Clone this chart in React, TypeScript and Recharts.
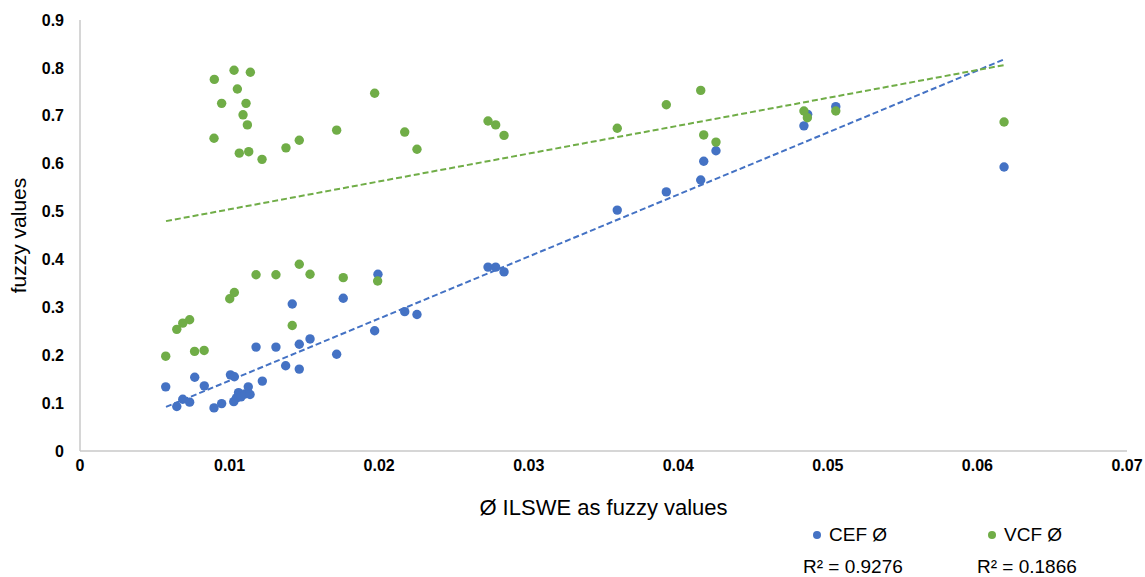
import { ScatterChart, Scatter, XAxis, YAxis, Label } from "recharts";

const xTicks = [0, 0.01, 0.02, 0.03, 0.04, 0.05, 0.06, 0.07];
const yTicks = [0, 0.1, 0.2, 0.3, 0.4, 0.5, 0.6, 0.7, 0.8, 0.9];

// CEF Ø (blue)
const cefX = [
  0.00573, 0.00647, 0.00687, 0.00733, 0.00767, 0.00831, 0.00896, 0.00947,
  0.01006, 0.01032, 0.01028, 0.01046, 0.0106, 0.01076, 0.01103, 0.01125,
  0.01137, 0.01177, 0.01219, 0.0131, 0.01375, 0.01419, 0.01466, 0.01466,
  0.01538, 0.01716, 0.0176, 0.0197, 0.01992, 0.02171, 0.02253, 0.02728,
  0.02779, 0.02835, 0.03592, 0.0392, 0.0415, 0.0417, 0.04252, 0.0484,
  0.04865, 0.05053, 0.06178,
];
const cefY = [
  0.134, 0.093, 0.108, 0.102, 0.154, 0.136, 0.09, 0.099,
  0.159, 0.155, 0.103, 0.111, 0.122, 0.113, 0.119, 0.134,
  0.118, 0.217, 0.146, 0.217, 0.178, 0.307, 0.171, 0.223,
  0.234, 0.202, 0.319, 0.251, 0.369, 0.291, 0.285, 0.384,
  0.384, 0.374, 0.503, 0.541, 0.566, 0.605, 0.627, 0.679,
  0.703, 0.719, 0.593,
];

// VCF Ø (green)
const vcfX = [
  0.00898, 0.0103, 0.01139, 0.01052, 0.00947, 0.0111, 0.0109, 0.01119,
  0.00896, 0.01065, 0.01128, 0.01217, 0.01377, 0.01466, 0.01716, 0.0197,
  0.02171, 0.02253, 0.02728, 0.02779, 0.02835, 0.03592, 0.0392, 0.0415,
  0.0417, 0.04252, 0.0484, 0.04863, 0.05053, 0.06178, 0.00573, 0.00647,
  0.00687, 0.00733, 0.00766, 0.0083, 0.01001, 0.01032, 0.01177, 0.0131,
  0.01466, 0.01538, 0.0176, 0.0199, 0.01419,
];
const vcfY = [
  0.776, 0.795, 0.791, 0.756, 0.726, 0.726, 0.702, 0.681,
  0.653, 0.622, 0.625, 0.609, 0.633, 0.649, 0.67, 0.747,
  0.666, 0.63, 0.689, 0.681, 0.659, 0.674, 0.723, 0.753,
  0.66, 0.645, 0.71, 0.696, 0.71, 0.687, 0.198, 0.254,
  0.267, 0.274, 0.208, 0.21, 0.318, 0.331, 0.368, 0.368,
  0.39, 0.369, 0.362, 0.355, 0.262,
];

// linear trendlines, end points
const trendX = [0.00575, 0.0618];
const cefTrendY = [0.092, 0.818];
const vcfTrendY = [0.48, 0.806];

const cefR2 = "0.9276";
const vcfR2 = "0.1866";

const BLUE = "#4472C4";
const GREEN = "#70AD47";
const FONT = "'Liberation Sans', Arial, sans-serif";

const toPoints = (xs: number[], ys: number[]) =>
  xs.map((x, i) => ({ x, y: ys[i] }));

const dot = (color: string) => (props: any) =>
  <circle cx={props.cx} cy={props.cy} r={4.7} fill={color} />;

const noDot = () => <g />;

export default function App() {
  const cef = toPoints(cefX, cefY);
  const vcf = toPoints(vcfX, vcfY);
  const cefTrend = toPoints(trendX, cefTrendY);
  const vcfTrend = toPoints(trendX, vcfTrendY);

  const tick = { fill: "#000", fontSize: 16, fontWeight: 700, fontFamily: FONT };

  return (
    <div style={{ position: "absolute", left: 0, top: 0, width: 1145, height: 577, background: "#fff", fontFamily: FONT }}>
      <ScatterChart width={1145} height={577} margin={{ top: 20, right: 18, bottom: 96, left: 0 }}>
        <XAxis
          type="number"
          dataKey="x"
          domain={[0, 0.07]}
          ticks={xTicks}
          interval={0}
          height={30}
          tickLine={false}
          tickSize={0}
          tickMargin={9}
          axisLine={{ stroke: "#c9c9c9", strokeWidth: 1.5 }}
          tick={tick}
        >
          <Label
            content={(p: any) => (
              <text
                x={p.viewBox.x + p.viewBox.width / 2}
                y={p.viewBox.y + 64}
                textAnchor="middle"
                fontSize={22}
                fontFamily={FONT}
                fill="#000"
              >
                Ø ILSWE as fuzzy values
              </text>
            )}
          />
        </XAxis>
        <YAxis
          type="number"
          dataKey="y"
          domain={[0, 0.9]}
          ticks={yTicks}
          interval={0}
          width={80}
          tickLine={false}
          tickSize={0}
          tickMargin={16}
          axisLine={{ stroke: "#c9c9c9", strokeWidth: 1.5 }}
          tick={tick}
        >
          <Label
            content={(p: any) => {
              const cx = 26;
              const cy = p.viewBox.y + p.viewBox.height / 2;
              return (
                <text
                  x={cx}
                  y={cy}
                  transform={`rotate(-90 ${cx} ${cy})`}
                  textAnchor="middle"
                  fontSize={21}
                  fontFamily={FONT}
                  fill="#000"
                >
                  fuzzy values
                </text>
              );
            }}
          />
        </YAxis>
        <Scatter
          name="CEF trend"
          data={cefTrend}
          line={{ stroke: BLUE, strokeWidth: 2, strokeDasharray: "6 3" }}
          shape={noDot}
          isAnimationActive={false}
        />
        <Scatter
          name="VCF trend"
          data={vcfTrend}
          line={{ stroke: GREEN, strokeWidth: 2, strokeDasharray: "6 3" }}
          shape={noDot}
          isAnimationActive={false}
        />
        <Scatter name="CEF Ø" data={cef} shape={dot(BLUE)} isAnimationActive={false} />
        <Scatter name="VCF Ø" data={vcf} shape={dot(GREEN)} isAnimationActive={false} />
      </ScatterChart>

      {/* legend with R² values, bottom right */}
      <div style={{ position: "absolute", left: 813, top: 524, fontSize: 19, color: "#000", display: "flex", alignItems: "center" }}>
        <span style={{ width: 8, height: 8, borderRadius: 4, background: BLUE, marginRight: 8 }} />
        CEF Ø
      </div>
      <div style={{ position: "absolute", left: 988, top: 524, fontSize: 19, color: "#000", display: "flex", alignItems: "center" }}>
        <span style={{ width: 8, height: 8, borderRadius: 4, background: GREEN, marginRight: 8 }} />
        VCF Ø
      </div>
      <div style={{ position: "absolute", left: 803, top: 556, fontSize: 19, color: "#000" }}>
        R² = {cefR2}
      </div>
      <div style={{ position: "absolute", left: 977, top: 556, fontSize: 19, color: "#000" }}>
        R² = {vcfR2}
      </div>
    </div>
  );
}
